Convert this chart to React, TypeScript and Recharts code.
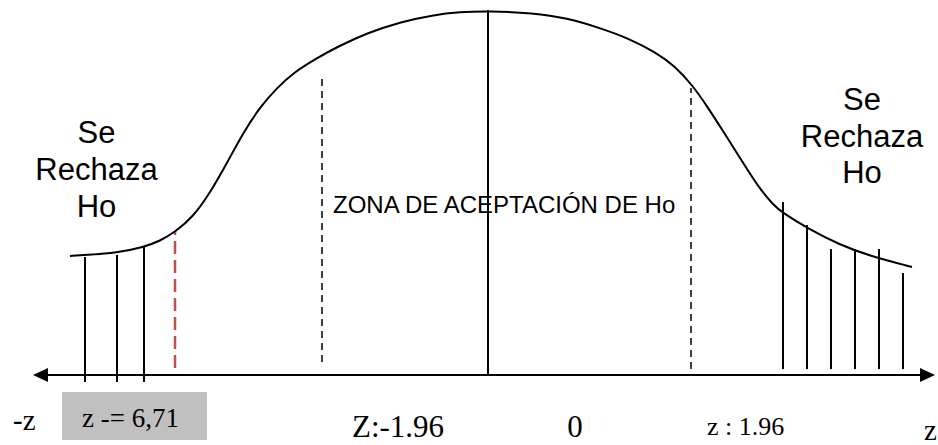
import React from "react";
import {
  ComposedChart,
  Line,
  Scatter,
  XAxis,
  YAxis,
  ReferenceLine,
  ReferenceArea,
} from "recharts";

// Curve of the distribution (x in diagram units, h = height above the axis)
const curveX = [70, 85, 117, 144, 160, 175, 193, 210, 227, 243, 260, 277, 293, 317, 337, 367, 400, 433, 460, 488, 533, 567, 600, 630, 655, 675, 693, 707, 723, 740, 757, 773, 783, 807, 840, 870, 912];
const curveH = [119, 120, 122, 128, 134, 143, 158, 182, 212, 242, 268, 287, 302, 317, 328, 342, 353, 360, 363, 364, 362, 357, 347, 336, 323, 309, 289, 269, 244, 217, 190, 170, 162, 147, 130, 119, 108];

// Hatching lines in the rejection zones
const leftHatchX = [85, 117, 144];
const leftHatchTop = [118, 120, 128];
const leftHatchBottom = -7;
const rightHatchX = [783, 807, 831, 855, 879, 903];
const rightHatchTop = [173, 150, 126, 126, 126, 102];
const rightHatchBottom = 6;

// Critical / reference vertical lines
const redCritical = { x: 175, top: 144, bottom: 7 };
const leftCritical = { x: 322, top: 299, bottom: 13 };
const rightCritical = { x: 691, top: 287, bottom: 6 };
const centerLine = { x: 488, top: 365, bottom: 0 };

// Horizontal axis
const axisStart = 33;
const axisEnd = 935;

// Text annotations
const rejectLines = ["Se", "Rechaza", "Ho"];
const rejectLeftX = 96.5;
const rejectLeftH = [232, 195, 158];
const rejectRightX = 862;
const rejectRightH = [265, 228, 192];
const zoneText = "ZONA DE ACEPTACIÓN DE Ho";
const zoneX = 333;
const zoneH = 162;
const bottomTexts = ["-z", "z -= 6,71", "Z:-1.96", "0", "z : 1.96", "z"];
const bottomX = [13, 82, 352, 575, 707, 924];
const bottomH = [-55, -52, -62, -62, -60, -65];
const boxX = [62, 207];
const boxH = [-65, -17];

const SANS = "'Liberation Sans', Arial, sans-serif";
const SERIF = "'Liberation Serif', 'Times New Roman', serif";

const curveData = curveX.map((x, i) => ({ x, h: curveH[i] }));

const sansData = [
  ...rejectLines.map((t, i) => ({ x: rejectLeftX, h: rejectLeftH[i], text: t, size: 31, anchor: "middle" })),
  ...rejectLines.map((t, i) => ({ x: rejectRightX, h: rejectRightH[i], text: t, size: 31, anchor: "middle" })),
  { x: zoneX, h: zoneH, text: zoneText, size: 24, anchor: "start" },
];
const bottomSizes = [29, 27, 31, 31, 26, 29];
const serifData = bottomTexts.map((t, i) => ({
  x: bottomX[i],
  h: bottomH[i],
  text: t,
  size: bottomSizes[i],
  anchor: t === "0" ? "middle" : "start",
}));
const arrowData = [
  { x: axisStart, h: 0, dir: -1 },
  { x: axisEnd, h: 0, dir: 1 },
];

const SansText = (props: any) => {
  const { cx, cy, payload } = props;
  return (
    <text x={cx} y={cy} textAnchor={payload.anchor} fontFamily={SANS} fontSize={payload.size} fill="#000">
      {payload.text}
    </text>
  );
};
const SerifText = (props: any) => {
  const { cx, cy, payload } = props;
  return (
    <text x={cx} y={cy} textAnchor={payload.anchor} fontFamily={SERIF} fontSize={payload.size} fill="#000">
      {payload.text}
    </text>
  );
};
const Arrow = (props: any) => {
  const { cx, cy, payload } = props;
  const d = payload.dir;
  const base = cx - d * 15;
  return <polygon points={`${cx},${cy} ${base},${cy - 7} ${base},${cy + 7}`} fill="#000" />;
};

const vseg = (x: number, top: number, bottom: number) => [
  { x, y: bottom },
  { x, y: top },
];

export default function App() {
  return (
    <div style={{ position: "absolute", left: 0, top: 0, width: 938, height: 445, background: "#fff" }}>
      <ComposedChart width={938} height={445} margin={{ top: 0, right: 0, bottom: 0, left: 0 }}>
        <XAxis type="number" dataKey="x" domain={[0, 938]} hide allowDataOverflow />
        <YAxis type="number" dataKey="h" domain={[-70, 375]} hide allowDataOverflow />
        <ReferenceArea x1={boxX[0]} x2={boxX[1]} y1={boxH[0]} y2={boxH[1]} fill="#c0c0c0" fillOpacity={1} stroke="none" />
        <ReferenceLine segment={[{ x: axisStart + 10, y: 0 }, { x: axisEnd - 10, y: 0 }]} stroke="#000" strokeWidth={2} />
        {leftHatchX.map((x, i) => (
          <ReferenceLine key={"l" + i} segment={vseg(x, leftHatchTop[i], leftHatchBottom)} stroke="#000" strokeWidth={2} />
        ))}
        {rightHatchX.map((x, i) => (
          <ReferenceLine key={"r" + i} segment={vseg(x, rightHatchTop[i], rightHatchBottom)} stroke="#000" strokeWidth={2} />
        ))}
        <ReferenceLine segment={vseg(redCritical.x, redCritical.top, redCritical.bottom)} stroke="#c0504d" strokeWidth={2.5} strokeDasharray="13 6" />
        <ReferenceLine segment={vseg(leftCritical.x, leftCritical.top, leftCritical.bottom)} stroke="#000" strokeWidth={1.5} strokeDasharray="7 5" />
        <ReferenceLine segment={vseg(rightCritical.x, rightCritical.top, rightCritical.bottom)} stroke="#000" strokeWidth={1.5} strokeDasharray="7 5" />
        <ReferenceLine segment={vseg(centerLine.x, centerLine.top, centerLine.bottom)} stroke="#000" strokeWidth={2} />
        <Line data={curveData} dataKey="h" type="basis" stroke="#000" strokeWidth={2} dot={false} isAnimationActive={false} />
        <Scatter data={arrowData} dataKey="h" shape={Arrow} isAnimationActive={false} />
        <Scatter data={sansData} dataKey="h" shape={SansText} isAnimationActive={false} />
        <Scatter data={serifData} dataKey="h" shape={SerifText} isAnimationActive={false} />
      </ComposedChart>
    </div>
  );
}
